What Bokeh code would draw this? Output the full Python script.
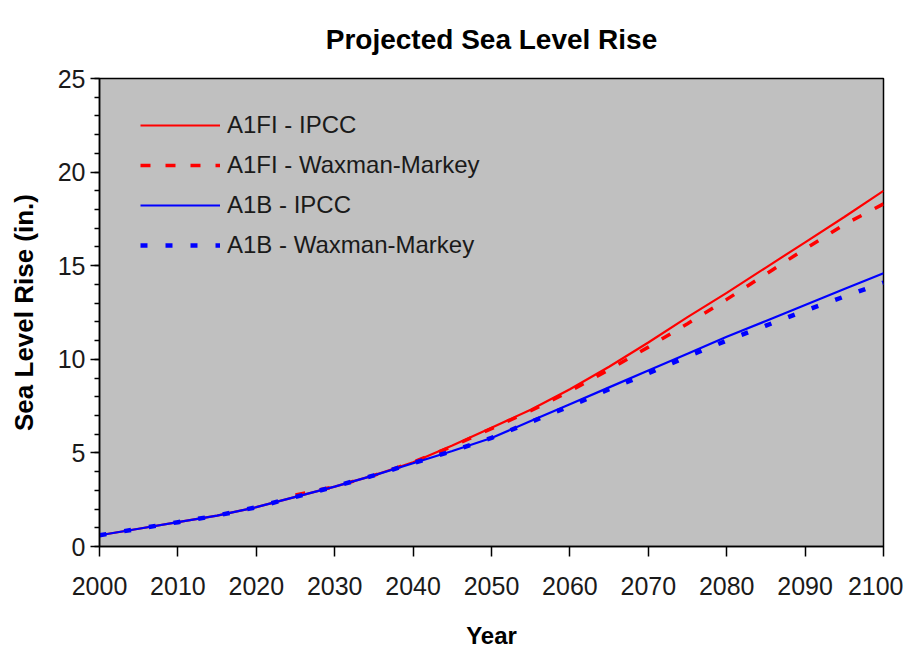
from bokeh.plotting import figure
from bokeh.models import Range1d, FixedTicker, Legend, LegendItem
from bokeh.embed import file_html
from bokeh.resources import INLINE

# ---- data ----
years = [2000, 2005, 2010, 2015, 2020, 2025, 2030, 2035, 2040, 2045, 2050,
         2055, 2060, 2065, 2070, 2075, 2080, 2085, 2090, 2095, 2100]
a1fi_ipcc = [0.6, 0.95, 1.3, 1.65, 2.1, 2.65, 3.2, 3.8, 4.5, 5.4, 6.35,
             7.3, 8.4, 9.6, 10.9, 12.25, 13.55, 14.9, 16.25, 17.6, 19.0]
a1b_ipcc = [0.6, 0.95, 1.3, 1.65, 2.1, 2.65, 3.2, 3.8, 4.45, 5.1, 5.8,
            6.7, 7.6, 8.5, 9.4, 10.3, 11.2, 12.05, 12.9, 13.75, 14.6]
wm_red_years = [2025, 2030, 2035, 2040, 2045, 2050, 2055, 2060, 2065, 2070,
                2075, 2080, 2085, 2090, 2095, 2100]
a1fi_wm = [2.75, 3.2, 3.8, 4.5, 5.35, 6.3, 7.25, 8.3, 9.45, 10.65,
           11.9, 13.2, 14.55, 15.9, 17.2, 18.3]
a1b_wm = [0.6, 0.95, 1.3, 1.65, 2.1, 2.65, 3.2, 3.8, 4.45, 5.1, 5.8,
          6.65, 7.5, 8.4, 9.25, 10.15, 11.0, 11.8, 12.6, 13.35, 14.1]

x_ticks = [2000, 2010, 2020, 2030, 2040, 2050, 2060, 2070, 2080, 2090, 2100]
y_ticks = [0, 5, 10, 15, 20, 25]
y_minor = list(range(0, 26))

title_text = "Projected Sea Level Rise"
x_label = "Year"
y_label = "Sea Level Rise (in.)"
labels = ["A1FI - IPCC", "A1FI - Waxman-Markey", "A1B - IPCC", "A1B - Waxman-Markey"]

FONT = "Liberation Sans"
FW, FH = 784, 468

p = figure(frame_width=FW, frame_height=FH,
           output_backend="svg", toolbar_location=None,
           x_range=Range1d(2000, 2100), y_range=Range1d(0, 25),
           min_border_left=99, min_border_right=20,
           min_border_top=78, min_border_bottom=97,
           background_fill_color="#c0c0c0", border_fill_color="white")

p.title.text = title_text
p.title.align = "center"
p.title.vertical_align = "top"
p.title.text_font = FONT
p.title.text_font_size = "28px"
p.title.text_font_style = "bold"
p.title.text_color = "black"
p.title.standoff = 44

p.outline_line_color = "black"
p.outline_line_width = 1.5
p.xgrid.visible = False
p.ygrid.visible = False

# x axis
xa = p.xaxis[0]
xa.ticker = FixedTicker(ticks=x_ticks)
xa.axis_line_color = "black"
xa.axis_line_width = 1.5
xa.major_tick_out = 10
xa.major_tick_in = 0
xa.major_tick_line_width = 1.5
xa.minor_tick_line_color = None
xa.major_label_text_font = FONT
xa.major_label_text_font_size = "25px"
xa.major_label_text_color = "#1a1a1a"
xa.major_label_standoff = 20
xa.axis_label = x_label
xa.axis_label_text_font = FONT
xa.axis_label_text_font_size = "24px"
xa.axis_label_text_font_style = "bold"
xa.axis_label_text_color = "black"
xa.axis_label_standoff = 24

# y axis
ya = p.yaxis[0]
ya.ticker = FixedTicker(ticks=y_ticks, minor_ticks=y_minor)
ya.axis_line_color = "black"
ya.axis_line_width = 1.5
ya.major_tick_out = 9
ya.major_tick_in = 0
ya.major_tick_line_width = 1.5
ya.minor_tick_out = 5
ya.minor_tick_in = 0
ya.minor_tick_line_width = 1.5
ya.minor_tick_line_color = "black"
ya.major_label_text_font = FONT
ya.major_label_text_font_size = "25px"
ya.major_label_text_color = "#1a1a1a"
ya.major_label_standoff = 5
ya.axis_label = y_label
ya.axis_label_text_font = FONT
ya.axis_label_text_font_size = "26px"
ya.axis_label_text_font_style = "bold"
ya.axis_label_text_color = "black"
ya.axis_label_standoff = 16

r1 = p.line(years, a1fi_ipcc, line_color="#ff0000", line_width=2.2)
r2 = p.line(wm_red_years, a1fi_wm, line_color="#ff0000", line_width=3.5,
            line_dash="10 15")
r3 = p.line(years, a1b_ipcc, line_color="#0000ff", line_width=2.2)
r4 = p.line(years, a1b_wm, line_color="#0000ff", line_width=4.5,
            line_dash="7 18")

legend = Legend(items=[LegendItem(label=labels[0], renderers=[r1]),
                       LegendItem(label=labels[1], renderers=[r2]),
                       LegendItem(label=labels[2], renderers=[r3]),
                       LegendItem(label=labels[3], renderers=[r4])],
                location=(41, 286), orientation="vertical",
                border_line_color=None, background_fill_alpha=0,
                padding=0, margin=0, spacing=10,
                glyph_width=80, glyph_height=30, label_height=30,
                label_standoff=7,
                label_text_font=FONT, label_text_font_size="24px",
                label_text_color="#1a1a1a")
p.add_layout(legend, "center")

open("out.html", "w").write(file_html(p, INLINE))
